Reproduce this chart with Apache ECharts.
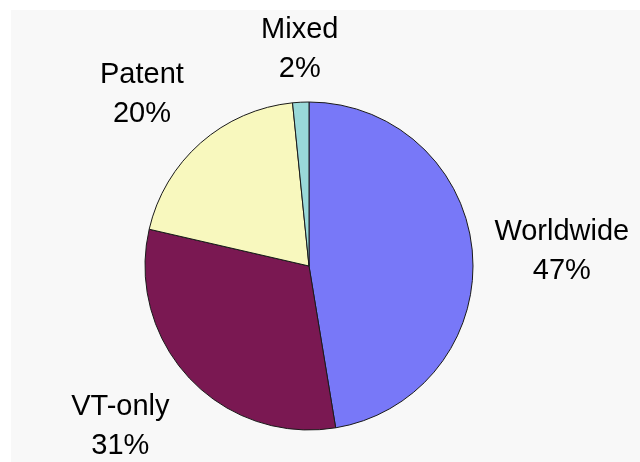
<!DOCTYPE html>
<html>
<head>
<meta charset="utf-8">
<script src="https://cdn.jsdelivr.net/npm/echarts@6/dist/echarts.min.js"></script>
<style>
  html, body { margin: 0; padding: 0; background: #ffffff; }
  #chart { width: 640px; height: 462px; }
</style>
</head>
<body>
<div id="chart"></div>
<script>
var categories = ['Worldwide', 'VT-only', 'Patent', 'Mixed'];
var values = [47.4, 31.2, 19.8, 1.6];
var colors = ['#7878F8', '#7A1852', '#F8F8BE', '#99D9D9'];

// layout (not data): pie geometry and small label nudges
var CX = 309, CY = 266, R = 164, LABEL_GAP = 20;
var labelNudge = [[2, 6], [-13, -4], [-11, 6], [2, 6]];

var total = values.reduce(function (a, b) { return a + b; }, 0);
var midAngles = [];
(function () {
  var acc = 0;
  for (var i = 0; i < values.length; i++) {
    midAngles.push((acc + values[i] / 2) / total * 2 * Math.PI);
    acc += values[i];
  }
})();

var chart = echarts.init(document.getElementById('chart'), null, { renderer: 'canvas' });
chart.setOption({
  backgroundColor: '#ffffff',
  animation: false,
  graphic: [{
    type: 'rect', z: -10, silent: true,
    shape: { x: 11, y: 10, width: 640, height: 462 },
    style: { fill: '#F8F8F8' }
  }],
  series: [{
    type: 'pie',
    center: [CX, CY],
    radius: [0, R],
    startAngle: 90,
    clockwise: true,
    avoidLabelOverlap: false,
    percentPrecision: 0,
    itemStyle: { borderColor: '#1a1a1a', borderWidth: 1 },
    label: {
      show: true,
      position: 'outside',
      formatter: '{b}\n{d}%',
      fontFamily: 'Liberation Sans, Arial, sans-serif',
      fontSize: 29,
      lineHeight: 39,
      color: '#000000',
      align: 'center'
    },
    labelLine: { show: false },
    emphasis: { disabled: true },
    labelLayout: function (p) {
      var i = p.dataIndex;
      var a = midAngles[i];
      var ux = Math.sin(a), uy = -Math.cos(a);
      var hw = p.labelRect.width / 2, hh = p.labelRect.height / 2;
      var ex = Math.abs(ux) > 1e-6 ? hw / Math.abs(ux) : Infinity;
      var ey = Math.abs(uy) > 1e-6 ? hh / Math.abs(uy) : Infinity;
      var s = R + LABEL_GAP + Math.min(ex, ey);
      return {
        x: CX + ux * s + labelNudge[i][0],
        y: CY + uy * s + labelNudge[i][1],
        align: 'center',
        verticalAlign: 'middle'
      };
    },
    data: categories.map(function (c, i) {
      return { name: c, value: values[i], itemStyle: { color: colors[i] } };
    })
  }]
});
</script>
</body>
</html>
